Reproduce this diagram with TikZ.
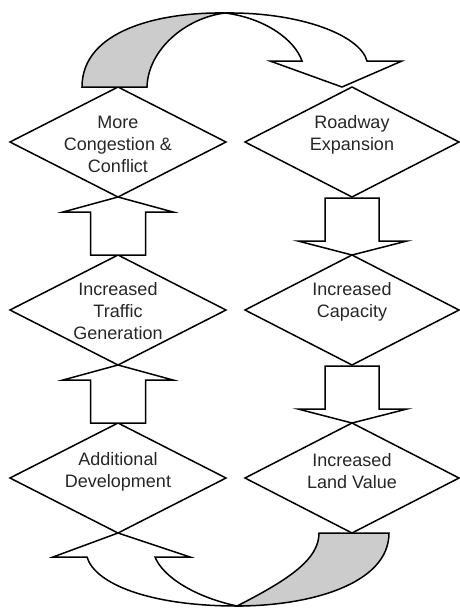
\documentclass[tikz,border=0pt]{standalone}
\usepackage{fontspec}
\setmainfont{Liberation Sans}
\usetikzlibrary{shapes.geometric,calc}
\begin{document}
\begin{tikzpicture}[x=1pt,y=-1pt,
  dia/.style={draw,shape=diamond,line width=1.5pt,minimum width=#1,minimum height=110pt,inner sep=0pt,outer sep=0pt},
  txt/.style={font=\fontsize{18}{22}\selectfont,align=center,inner sep=0pt,text=black!85},
  blk/.style={draw,fill=white,line width=1.5pt,line join=miter},
  gband/.style={draw,fill=black!20,line width=1.5pt},
  wband/.style={draw,fill=white,line width=1.5pt,line join=miter}]
\useasboundingbox (0,0) rectangle (460,611);
% diamonds
\node[dia=216pt] (d1) at (118,142) {};
\node[dia=216pt] (d2) at (118,310) {};
\node[dia=216pt] (d3) at (118,478) {};
\node[dia=214pt] (d4) at (352,142) {};
\node[dia=214pt] (d5) at (352,310) {};
\node[dia=214pt] (d6) at (352,478) {};
% texts
\node[txt] (t1) at ($(d1)+(0,2)$) {More\\Congestion \&\\Conflict};
\node[txt] (t2) at ($(d2)+(0,1)$) {Increased\\Traffic\\Generation};
\node[txt] (t3) at ($(d3)+(0,-6)$) {Additional\\Development};
\node[txt] (t4) at ($(d4)+(0,-7)$) {Roadway\\Expansion};
\node[txt] (t5) at ($(d5)+(0,-8)$) {Increased\\Capacity};
\node[txt] (t6) at ($(d6)+(0,-7)$) {Increased\\Land Value};
% left column block arrows (up)
\draw[blk] ($(d2.north)+(-27.5,0)$) -- ($(d1.south)+(-27.5,15)$) -- ($(d1.south)+(-55,15)$) -- (d1.south)
  -- ($(d1.south)+(55,15)$) -- ($(d1.south)+(27.5,15)$) -- ($(d2.north)+(27.5,0)$) -- cycle;
\draw[blk] ($(d3.north)+(-27.5,0)$) -- ($(d2.south)+(-27.5,15)$) -- ($(d2.south)+(-55,15)$) -- (d2.south)
  -- ($(d2.south)+(55,15)$) -- ($(d2.south)+(27.5,15)$) -- ($(d3.north)+(27.5,0)$) -- cycle;
% right column block arrows (down)
\draw[blk] ($(d4.south)+(-27,1)$) -- ($(d5.north)+(-27,-14)$) -- ($(d5.north)+(-54,-14)$) -- (d5.north)
  -- ($(d5.north)+(55,-14)$) -- ($(d5.north)+(27,-14)$) -- ($(d4.south)+(27,1)$) -- cycle;
\draw[blk] ($(d5.south)+(-27,1)$) -- ($(d6.north)+(-27,-14)$) -- ($(d6.north)+(-54,-14)$) -- (d6.north)
  -- ($(d6.north)+(55,-14)$) -- ($(d6.north)+(27,-14)$) -- ($(d5.south)+(27,1)$) -- cycle;
% top curved arrow: from d1 to d4
\begin{scope}[shift={(d1.north)}]
\path[gband] (-36,0) .. controls (-36,-57) and (42,-75) .. (107,-74)
  .. controls (67,-69) and (30,-37) .. (29,0) -- cycle;
\path[wband] (107,-74) .. controls (182,-75) and (242,-52) .. (249,-26) -- (284,-26) -- (224,0)
  -- (152,-26) -- (184,-26) .. controls (177,-47) and (147,-69) .. (107,-74) -- cycle;
\end{scope}
% bottom curved arrow: from d6 to d3
\begin{scope}[shift={(d6.south)}]
\path[gband] (-33,0) -- (37,0) .. controls (37,51) and (-42,73) .. (-115,73)
  .. controls (-62,46) and (-33,26) .. (-33,0) -- cycle;
\path[wband] (-115,73) .. controls (-202,73) and (-257,51) .. (-265,24) -- (-299,24) -- (-234,0)
  -- (-162,24) -- (-197,24) .. controls (-189,44) and (-157,64) .. (-115,73) -- cycle;
\end{scope}
\end{tikzpicture}
\end{document}
